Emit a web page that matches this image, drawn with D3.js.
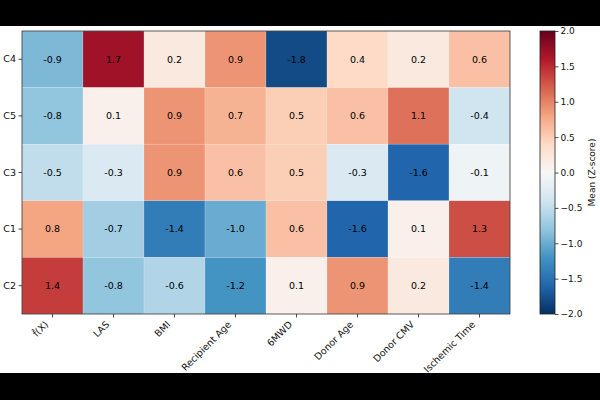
<!DOCTYPE html>
<html>
<head>
<meta charset="utf-8">
<script src="https://cdn.jsdelivr.net/npm/d3@7"></script>
<style>
  body { margin: 0; background: #000; }
  svg { display: block; font-family: "DejaVu Sans", sans-serif; }
</style>
</head>
<body>
<svg id="plot"></svg>
<script>
// data
const features = ["f\u0302(X)", "LAS", "BMI", "Recipient Age", "6MWD", "Donor Age", "Donor CMV", "Ischemic Time"];
const clusters = ["C4", "C5", "C3", "C1", "C2"];
const valuesC4 = [-0.9, 1.7, 0.2, 0.9, -1.8, 0.4, 0.2, 0.6];
const valuesC5 = [-0.8, 0.1, 0.9, 0.7, 0.5, 0.6, 1.1, -0.4];
const valuesC3 = [-0.5, -0.3, 0.9, 0.6, 0.5, -0.3, -1.6, -0.1];
const valuesC1 = [0.8, -0.7, -1.4, -1.0, 0.6, -1.6, 0.1, 1.3];
const valuesC2 = [1.4, -0.8, -0.6, -1.2, 0.1, 0.9, 0.2, -1.4];
const colorTicks = [-2.0, -1.5, -1.0, -0.5, 0.0, 0.5, 1.0, 1.5, 2.0];

const rows = [valuesC4, valuesC5, valuesC3, valuesC1, valuesC2];
const cells = [];
rows.forEach((vals, i) => vals.forEach((v, j) => cells.push({ row: clusters[i], col: features[j], value: v })));

// init setting
const svg = d3.select("#plot").attr("width", 600).attr("height", 400);
svg.append("rect").attr("x", 0).attr("y", 26).attr("width", 600).attr("height", 347).attr("fill", "white");

const plot = { left: 22, right: 510, top: 31, bottom: 314 };

const x = d3.scaleBand().domain(features).range([plot.left, plot.right]);
const y = d3.scaleBand().domain(clusters).range([plot.top, plot.bottom]);

// RdBu_r (ColorBrewer 11, linear)
const rdbu = ["#053061", "#2166ac", "#4393c3", "#92c5de", "#d1e5f0", "#f7f7f7", "#fddbc7", "#f4a582", "#d6604d", "#b2182b", "#67001f"];
const color = d3.scaleLinear()
    .domain(d3.range(11).map(i => -2 + i * 0.4))
    .range(rdbu)
    .clamp(true);

// cells
svg.selectAll(".cell")
    .data(cells)
    .enter().append("rect")
    .attr("class", "cell")
    .attr("x", d => x(d.col))
    .attr("y", d => y(d.row))
    .attr("width", x.bandwidth())
    .attr("height", y.bandwidth())
    .attr("fill", d => color(d.value))
    .attr("stroke", "white")
    .attr("stroke-opacity", 0.3)
    .attr("stroke-width", 0.5);

svg.selectAll(".cell-label")
    .data(cells)
    .enter().append("text")
    .attr("class", "cell-label")
    .attr("x", d => x(d.col) + x.bandwidth() / 2)
    .attr("y", d => y(d.row) + y.bandwidth() / 2)
    .attr("dy", "0.35em")
    .attr("text-anchor", "middle")
    .attr("font-size", 9.5)
    .attr("fill", "black")
    .text(d => d.value.toFixed(1));

// frame
svg.append("rect")
    .attr("x", plot.left).attr("y", plot.top)
    .attr("width", plot.right - plot.left).attr("height", plot.bottom - plot.top)
    .attr("fill", "none").attr("stroke", "#333").attr("stroke-width", 0.8);

// x axis (labels rotated 45, right edge at tick)
const xAxis = svg.append("g")
    .attr("transform", `translate(0, ${plot.bottom})`)
    .call(d3.axisBottom(x).tickSize(3.5).tickSizeOuter(0));
xAxis.select(".domain").remove();
xAxis.selectAll("line").attr("stroke", "#222").attr("stroke-width", 0.8);
xAxis.selectAll("text")
    .attr("font-size", 9.5)
    .attr("font-family", "DejaVu Sans, sans-serif")
    .attr("fill", "#111")
    .attr("text-anchor", "end")
    .attr("dy", 0)
    .attr("y", 5.3)
    .attr("x", -10.4)
    .attr("transform", "rotate(-45)");

// y axis
const yAxis = svg.append("g")
    .attr("transform", `translate(${plot.left}, 0)`)
    .call(d3.axisLeft(y).tickSize(3.5).tickSizeOuter(0));
yAxis.select(".domain").remove();
yAxis.selectAll("line").attr("stroke", "#222").attr("stroke-width", 0.8);
yAxis.selectAll("text")
    .attr("font-size", 9.5)
    .attr("font-family", "DejaVu Sans, sans-serif")
    .attr("fill", "#111")
    .attr("x", -6);

// colorbar
const cb = { left: 540, width: 15 };
const cScale = d3.scaleLinear().domain([-2, 2]).range([plot.bottom, plot.top]);

const defs = svg.append("defs");
const grad = defs.append("linearGradient")
    .attr("id", "cbgrad")
    .attr("x1", 0).attr("y1", 1).attr("x2", 0).attr("y2", 0);
grad.selectAll("stop")
    .data(rdbu)
    .enter().append("stop")
    .attr("offset", (d, i) => i / 10)
    .attr("stop-color", d => d);

svg.append("rect")
    .attr("x", cb.left).attr("y", plot.top)
    .attr("width", cb.width).attr("height", plot.bottom - plot.top)
    .attr("fill", "url(#cbgrad)")
    .attr("stroke", "#222").attr("stroke-width", 0.8);

const cAxis = svg.append("g")
    .attr("transform", `translate(${cb.left + cb.width}, 0)`)
    .call(d3.axisRight(cScale).tickValues(colorTicks).tickSize(3.5)
        .tickFormat(d => d3.format(".1f")(d).replace("-", "\u2212")));
cAxis.select(".domain").remove();
cAxis.selectAll("line").attr("stroke", "#222").attr("stroke-width", 0.8);
cAxis.selectAll("text")
    .attr("font-size", 9)
    .attr("font-family", "DejaVu Sans, sans-serif")
    .attr("fill", "#111")
    .attr("x", 5.5);

svg.append("text")
    .attr("transform", `translate(592, ${(plot.top + plot.bottom) / 2}) rotate(-90)`)
    .attr("text-anchor", "middle")
    .attr("dy", "0.35em")
    .attr("font-size", 9)
    .attr("fill", "#111")
    .text("Mean (Z-score)");
</script>
</body>
</html>
